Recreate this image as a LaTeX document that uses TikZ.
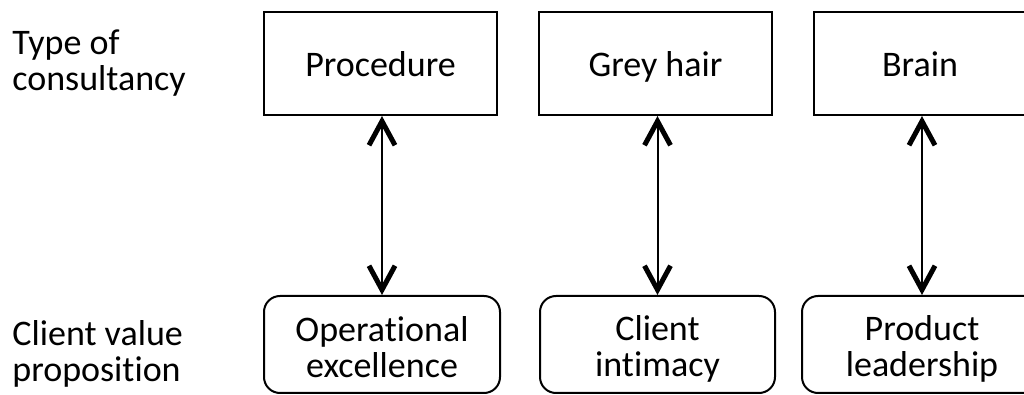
\documentclass[tikz,border=0pt]{standalone}
\usepackage{fontspec}
\setmainfont{Carlito}[Ligatures=NoCommon]
\usetikzlibrary{arrows.meta}
\newcommand{\hiline}{\rule{0pt}{17pt}}
\newcommand{\loline}{\rule[-1.5pt]{0pt}{1.5pt}}
\begin{document}
\begin{tikzpicture}[x=0.5pt,y=-0.5pt,
    font=\fontsize{18}{18}\selectfont,
    typebox/.style={draw,line width=1pt,minimum width=116.5pt,minimum height=51.5pt,inner sep=0pt,text height=15pt,text depth=1.5pt},
    valuebox/.style={draw,line width=1pt,rounded corners=8pt,minimum height=48.5pt,inner sep=0pt,align=center},
    sidelabel/.style={anchor=west,align=left,inner sep=0pt},
    link/.style={line width=1pt,{Straight Barb[length=12pt,width=13pt,line width=2.5pt]}-{Straight Barb[length=12pt,width=13pt,line width=2.5pt]}}]
    \useasboundingbox (0,0) rectangle (1024,395);
    \clip (0,0) rectangle (1024,395);
    % row labels
    \node[sidelabel] (typelbl) at (12,58.5) {\hiline Type of\\consultancy\loline};
    \node[sidelabel] (valuelbl) at (12,349.5) {\hiline Client value\\proposition\loline};
    % type of consultancy
    \node[typebox] (proc) at (380.5,63.5) {Procedure};
    \node[typebox] (grey) at (655.5,63.5) {Grey hair};
    \node[typebox,minimum width=106pt] (brain) at (920,63.5) {Brain};
    % client value proposition
    \node[valuebox,minimum width=118pt] (opex) at (382,344.5) {\hiline Operational\\excellence\loline};
    \node[valuebox,minimum width=117.5pt] (intim) at (657.5,344.5) {\hiline Client\\intimacy\loline};
    \node[valuebox,minimum width=120pt] (lead) at (922,344.5) {\hiline Product\\leadership\loline};
    % links
    \draw[link] (opex.north |- proc.south) -- (opex.north);
    \draw[link] (intim.north |- grey.south) -- (intim.north);
    \draw[link] (lead.north |- brain.south) -- (lead.north);
\end{tikzpicture}
\end{document}
